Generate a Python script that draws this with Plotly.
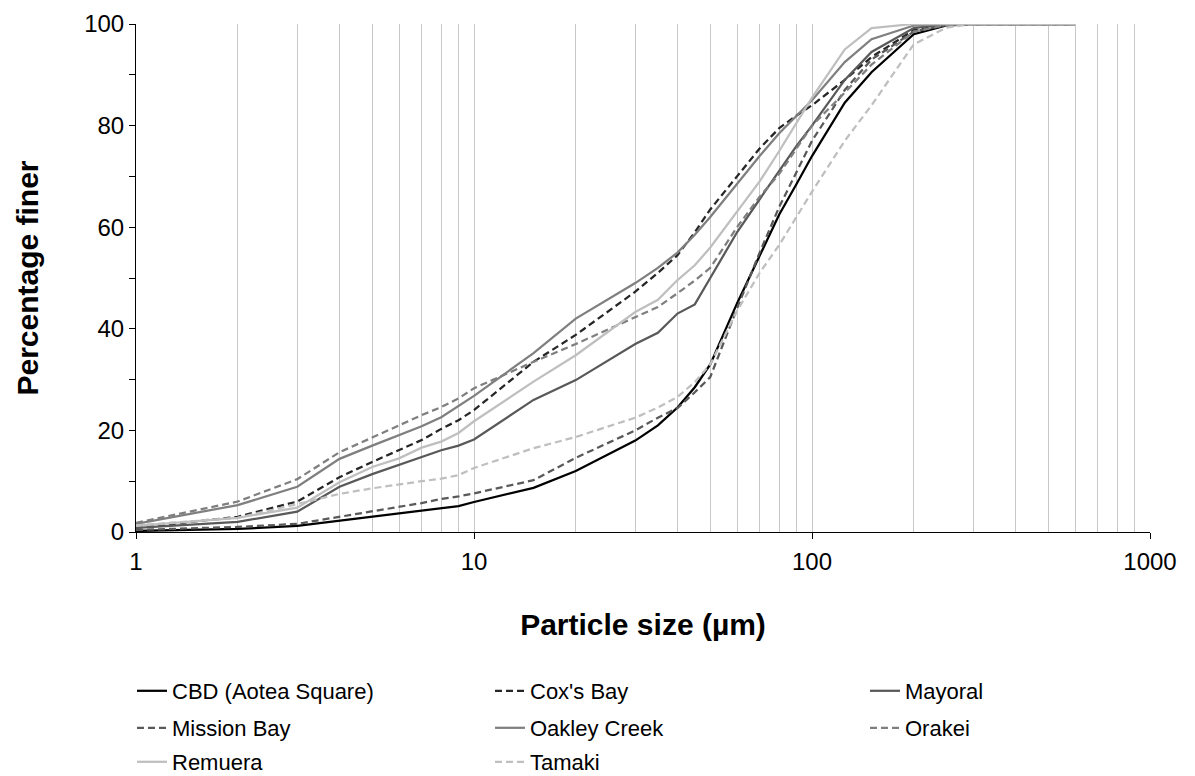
import plotly.graph_objects as go

sizes = [1, 2, 3, 4, 5, 6, 7, 8, 9, 10, 15, 20, 30, 35, 40, 45, 50, 60, 70, 80, 90,
         100, 125, 150, 200, 250, 300, 400, 500, 600]

cbd      = [0.2, 0.6, 1.2, 2.2, 3.0, 3.6, 4.2, 4.6, 5.1, 5.9, 8.7, 12.0, 18.0, 21.0, 24.5, 28.5, 33.0, 45.0, 54.5, 62.5, 68.5,
            74.0, 84.5, 90.5, 98.0, 99.7, 100, 100, 100, 100]
coxs_bay = [0.8, 3.0, 6.0, 10.8, 13.8, 16.1, 18.1, 20.3, 22.0, 24.0, 33.5, 38.8, 47.3, 51.0, 54.5, 59.0, 63.5, 70.0, 75.5, 79.5, 82.0,
            84.0, 89.0, 93.5, 98.8, 99.8, 100, 100, 100, 100]
mayoral  = [0.8, 2.0, 4.0, 8.9, 11.4, 13.2, 14.8, 16.1, 17.0, 18.2, 26.0, 29.9, 37.0, 39.2, 43.0, 44.8, 50.0, 59.0, 65.5, 71.0, 76.0,
            80.0, 89.0, 94.5, 99.2, 100, 100, 100, 100, 100]
mission  = [0.4, 1.0, 1.6, 3.0, 4.0, 4.9, 5.7, 6.5, 7.0, 7.6, 10.2, 14.6, 20.0, 22.5, 24.4, 27.5, 30.5, 44.0, 55.0, 64.0, 71.0,
            77.0, 87.0, 93.0, 98.5, 99.8, 100, 100, 100, 100]
oakley   = [1.6, 5.3, 8.9, 14.4, 17.0, 19.1, 20.8, 22.6, 24.8, 26.8, 35.2, 42.0, 49.0, 52.0, 55.0, 58.5, 62.0, 68.5, 74.0, 78.5, 82.0,
            85.0, 92.5, 97.0, 99.7, 100, 100, 100, 100, 100]
orakei   = [1.8, 6.0, 10.4, 15.7, 18.6, 21.0, 23.0, 24.6, 26.3, 28.3, 33.5, 37.0, 42.3, 44.3, 47.0, 49.5, 52.0, 60.0, 66.0, 70.5, 75.5,
            80.0, 86.5, 92.0, 98.5, 99.8, 100, 100, 100, 100]
remuera  = [1.2, 2.8, 4.8, 9.8, 12.8, 14.5, 16.6, 17.8, 19.5, 21.8, 29.6, 34.8, 43.3, 45.7, 49.6, 52.5, 56.0, 63.0, 69.0, 75.0, 80.5,
            85.5, 95.0, 99.2, 100, 100, 100, 100, 100, 100]
tamaki   = [1.3, 2.8, 5.5, 7.5, 8.6, 9.4, 10.0, 10.5, 11.2, 12.6, 16.5, 18.7, 22.5, 24.5, 26.6, 29.5, 33.0, 43.5, 51.0, 56.5, 62.0,
            67.0, 77.0, 84.0, 96.0, 99.3, 100, 100, 100, 100]

names = ["CBD (Aotea Square)", "Cox's Bay", "Mayoral", "Mission Bay", "Oakley Creek", "Orakei", "Remuera", "Tamaki"]
series = [cbd, coxs_bay, mayoral, mission, oakley, orakei, remuera, tamaki]
colors = ["#000000", "#262626", "#595959", "#595959", "#7f7f7f", "#7f7f7f", "#bfbfbf", "#bfbfbf"]
dashes = ["solid", "7px,4px", "solid", "7px,4px", "solid", "7px,4px", "solid", "7px,4px"]

# legend cell placement (text left x, row centre y) in pixels
legend_text_x = [172, 530, 905, 172, 530, 905, 172, 530]
legend_row_y = [691, 691, 691, 728, 728, 728, 762, 762]

x_grid = [m * d for d in (1, 10, 100) for m in range(1, 10)] + [1000]
x_decades = [1, 10, 100, 1000]
x_labels = [str(v) if v in x_decades else "" for v in x_grid]

W, H = 1195, 776
font = "Liberation Sans, Arial, sans-serif"

fig = go.Figure()
legend_layout = {}
for i, (name, ys, c, d) in enumerate(zip(names, series, colors, dashes)):
    lid = "legend" if i == 0 else f"legend{i + 1}"
    fig.add_trace(go.Scatter(x=sizes, y=ys, mode="lines", name=name, legend=lid, showlegend=True,
                             line=dict(color=c, width=2.25, dash=d)))
    legend_layout[lid] = dict(
        orientation="h", xref="container", yref="container",
        x=(legend_text_x[i] - 40) / W, xanchor="left",
        y=1 - legend_row_y[i] / H, yanchor="middle",
        font=dict(family=font, size=22, color="#000000"), bgcolor="rgba(0,0,0,0)",
    )

fig.update_layout(
    width=W, height=H, showlegend=True,
    margin=dict(l=136, r=45, t=24, b=244, autoexpand=False),
    paper_bgcolor="white", plot_bgcolor="white",
    font=dict(family=font, color="#000000"),
    xaxis=dict(
        type="log", range=[0, 3],
        tickmode="array", tickvals=x_grid, ticktext=x_labels, ticks="",
        showgrid=True, gridcolor="#c8c8c8", gridwidth=1,
        showline=True, linecolor="#000000", linewidth=1,
        tickfont=dict(size=24, family=font, color="#000000"),
        ticklabelstandoff=8,
        minor=dict(tickmode="array", tickvals=x_decades, ticks="outside", ticklen=6,
                   tickcolor="#000000", showgrid=False),
        title=dict(text="<b>Particle size (µm)</b>", font=dict(size=30, family=font, color="#000000"), standoff=40),
        zeroline=False,
    ),
    yaxis=dict(
        range=[0, 100], dtick=20, tick0=0, ticks="outside", ticklen=6, tickcolor="#000000",
        showgrid=False, showline=True, linecolor="#000000", linewidth=1,
        tickfont=dict(size=24, family=font, color="#000000"),
        minor=dict(dtick=10, ticks="outside", ticklen=6, tickcolor="#000000", showgrid=False),
        title=dict(text="<b>Percentage finer</b>", font=dict(size=30, family=font, color="#000000"), standoff=36),
        zeroline=False,
    ),
    **legend_layout,
)

fig.write_html("out.html")
